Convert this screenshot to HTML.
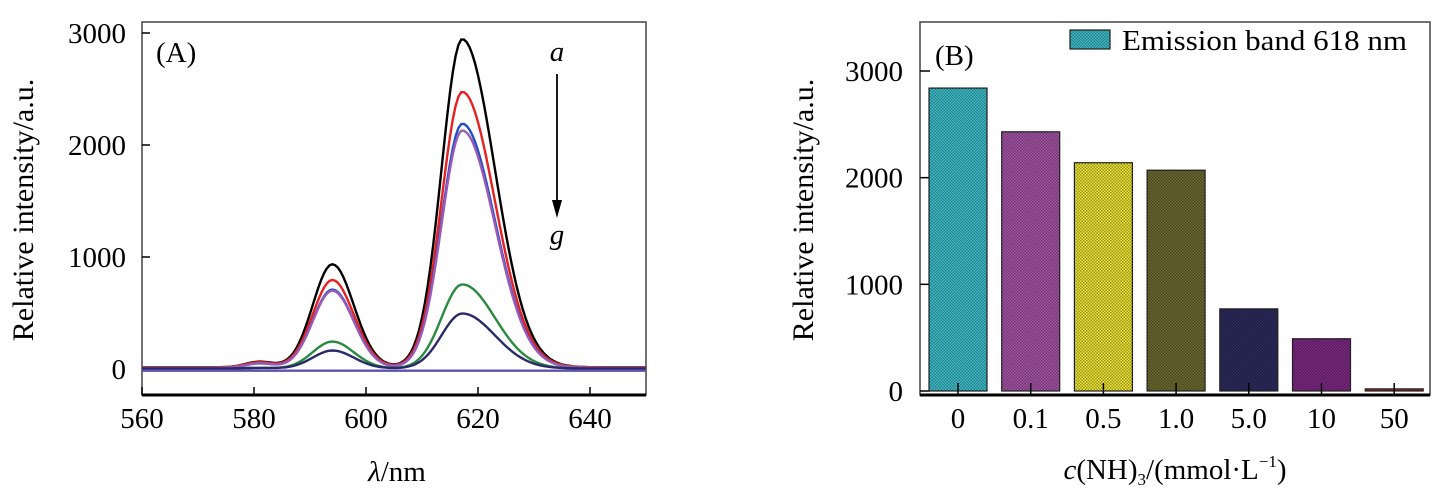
<!DOCTYPE html>
<html><head><meta charset="utf-8">
<style>
html,body{margin:0;padding:0;background:#fff;}
svg{display:block;font-family:"Liberation Serif",serif;}
</style></head>
<body>
<svg id="chart" width="1446" height="503" viewBox="0 0 1446 503">
<defs>
<pattern id="chk" width="3" height="3" patternUnits="userSpaceOnUse">
<rect x="0" y="0" width="1.5" height="1.5" fill="#000" opacity="0.35"/>
<rect x="1.5" y="1.5" width="1.5" height="1.5" fill="#000" opacity="0.35"/>
</pattern>
</defs>
<g id="panelA"></g>
<g id="panelB"></g>
</svg>
<script>
// ---- Panel A data ----
const wlTicks = [560, 580, 600, 620, 640];
const yTicksA = [0, 1000, 2000, 3000];
const seriesNames = ['a','b','c','d','e','f','g'];
const seriesColors = ['#000000','#e82020','#2050c0','#9a5ab8','#2a8a40','#2a2a6a','#6050b0'];
const peak594 = [920, 780, 700, 690, 240, 160, 0];
const peak617 = [2930, 2460, 2180, 2120, 750, 490, 0];
const shoulder580 = [50, 45, 40, 40, 5, 5, 0];
const baseline = [15, 15, 10, 10, 5, 5, -15];

// ---- Panel B data ----
const categories = ['0','0.1','0.5','1.0','5.0','10','50'];
const barValues = [2840, 2430, 2140, 2070, 770, 490, 20];
const barColors = ['#3ec0cc','#a855a8','#ece535','#6e6c30','#2c2c60','#7e2a86','#c03030'];
const yTicksB = [0, 1000, 2000, 3000];

const NS = 'http://www.w3.org/2000/svg';
function mk(tag, attrs, parent, text){
  const e = document.createElementNS(NS, tag);
  for (const k in attrs) e.setAttribute(k, attrs[k]);
  if (text !== undefined) e.textContent = text;
  parent.appendChild(e);
  return e;
}
function g(w, c, sl, sr){ const s = w < c ? sl : sr; return Math.exp(-Math.pow(w-c,2)/(2*s*s)); }

// ===== Panel A =====
const A = document.getElementById('panelA');
const aL=142, aR=646, aT=22, aB=395;
const xA = v => aL + (v-560)/(650-560)*(aR-aL);
const yA = v => 369 - v*(369-33)/3000;
const FS = 29;

const frameA = mk('rect',{x:aL,y:aT,width:aR-aL,height:aB-aT,fill:'none',stroke:'#444','stroke-width':1.5},A);


const axA = mk('line',{x1:aL,y1:aB,x2:aR,y2:aB,stroke:'#000','stroke-width':3},A);



wlTicks.forEach(t=>{
  const tk = mk('line',{x1:xA(t),y1:aB,x2:xA(t),y2:aB-8,stroke:'#000','stroke-width':1.5},A);
  
  
  const lb = mk('text',{x:xA(t),y:428,'text-anchor':'middle','font-size':FS},A,String(t));
  
  
});
yTicksA.forEach(t=>{
  const tk = mk('line',{x1:aL,y1:yA(t),x2:aL+8,y2:yA(t),stroke:'#000','stroke-width':1.5},A);
  
  
  const lb = mk('text',{x:126,y:yA(t)+10,'text-anchor':'end','font-size':FS},A,String(t));
  
  
});

seriesNames.forEach((n,i)=>{
  let d='';
  for (let w=560; w<=650; w+=0.5){
    const v = baseline[i]
      + peak594[i]*g(w,594,3.5,3.8)
      + peak617[i]*g(w,617.2,3.7,5.8)
      + shoulder580[i]*g(w,581,2.5,2.5);
    d += (d?'L':'M') + xA(w).toFixed(1) + ',' + yA(v).toFixed(1);
  }
  const p = mk('path',{d:d,fill:'none',stroke:seriesColors[i],'stroke-width':2.4},A);
  
  
});

const lblA = mk('text',{x:156,y:62,'font-size':FS},A,'(A)');


const ta = mk('text',{x:557,y:61,'text-anchor':'middle','font-size':FS,'font-style':'italic'},A,'a');


const arr = mk('line',{x1:557,y1:74,x2:557,y2:206,stroke:'#000','stroke-width':1.8},A);


const ah = mk('polygon',{points:'552,200 562,200 557,218',fill:'#000'},A);


const tg = mk('text',{x:557,y:244,'text-anchor':'middle','font-size':FS,'font-style':'italic'},A,'g');



const xtA = mk('text',{x:397,y:481,'text-anchor':'middle','font-size':FS},A);


mk('tspan',{'font-style':'italic'},xtA,'λ');
mk('tspan',{},xtA,'/nm');
const ytA = mk('text',{x:0,y:0,'text-anchor':'middle','font-size':30,transform:'translate(33,210) rotate(-90)'},A,'Relative intensity/a.u.');



// ===== Panel B =====
const B = document.getElementById('panelB');
const bL=920, bR=1430, bT=22, bB=395;
const yB = v => 391 - v*(391-71)/3000;
const step = 72.7, bw = 58;
const xB = i => 958 + i*step;

const frameB = mk('rect',{x:bL,y:bT,width:bR-bL,height:bB-bT,fill:'none',stroke:'#444','stroke-width':1.5},B);



yTicksB.forEach(t=>{
  const tk = mk('line',{x1:bL,y1:yB(t),x2:bL+10,y2:yB(t),stroke:'#000','stroke-width':1.5},B);
  
  
  const lb = mk('text',{x:903,y:yB(t)+10,'text-anchor':'end','font-size':FS},B,String(t));
  
  
});

categories.forEach((c,i)=>{
  const x = xB(i)-bw/2, y = yB(barValues[i]), h = yB(0)-yB(barValues[i]);
  const r = mk('rect',{x:x,y:y,width:bw,height:h,fill:barColors[i],stroke:'#222','stroke-width':1.2},B);
  
  
  const o = mk('rect',{x:x,y:y,width:bw,height:h,fill:'url(#chk)'},B);
  
  
  const tk = mk('line',{x1:xB(i),y1:bB,x2:xB(i),y2:bB-12,stroke:'#000','stroke-width':1.5},B);
  
  
  const lb = mk('text',{x:xB(i),y:428,'text-anchor':'middle','font-size':FS},B,c);
  
  
});
const axB = mk('line',{x1:bL,y1:bB,x2:bR,y2:bB,stroke:'#000','stroke-width':3},B);



const lgs = mk('rect',{x:1070,y:30,width:40,height:19,fill:barColors[0],stroke:'#222','stroke-width':1.2},B);


mk('rect',{x:1070,y:30,width:40,height:19,fill:'url(#chk)'},B);
const lgt = mk('text',{x:1122,y:50,'font-size':28,textLength:285,lengthAdjust:'spacingAndGlyphs'},B,'Emission band 618 nm');



const lblB = mk('text',{x:935,y:65,'font-size':FS},B,'(B)');



const xtB = mk('text',{x:1175,y:479,'text-anchor':'middle','font-size':FS},B);


mk('tspan',{'font-style':'italic'},xtB,'c');
mk('tspan',{},xtB,'(NH)');
mk('tspan',{'font-size':17,dy:6},xtB,'3');
mk('tspan',{dy:-6},xtB,'/(mmol·L');
mk('tspan',{'font-size':17,dy:-12},xtB,'−1');
mk('tspan',{dy:12},xtB,')');
const ytB = mk('text',{x:0,y:0,'text-anchor':'middle','font-size':30,transform:'translate(813,210) rotate(-90)'},B,'Relative intensity/a.u.');


</script>
</body></html>
